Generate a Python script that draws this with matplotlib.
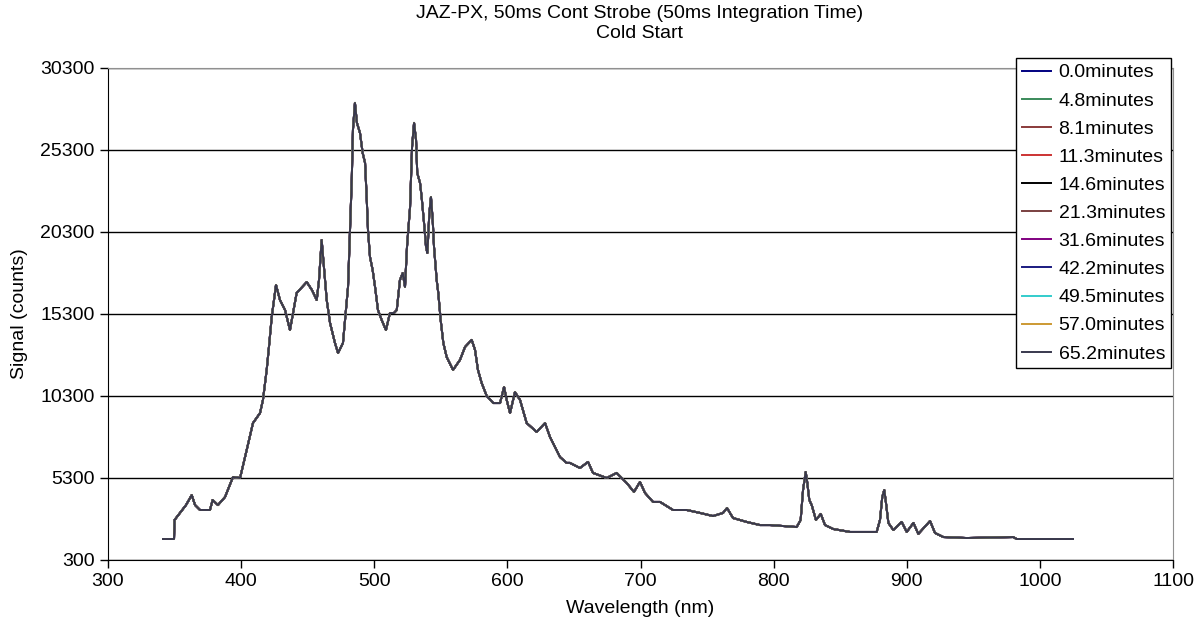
import matplotlib
matplotlib.use('Agg')
import matplotlib.pyplot as plt

# spectrum (all runs overlap almost exactly)
wavelength = [341.3, 349.6, 350.0, 354.1, 358.6, 362.9, 365.4, 369.1, 376.6, 378.6,
              382.6, 387.9, 393.9, 399.2, 404.2, 408.9, 414.2, 416.4, 419.2, 420.9,
              423.0, 426.2, 429.2, 433.0, 436.7, 441.7, 449.3, 453.2, 456.8, 458.5,
              460.5, 464.3, 466.8, 470.5, 472.8, 476.5, 480.3, 483.1, 484.0, 485.5,
              487.0, 489.3, 491.3, 493.1, 494.3, 495.3, 496.8, 498.8, 500.6, 502.8,
              505.6, 508.8, 511.8, 514.8, 516.9, 519.3, 521.4, 523.1, 524.6, 526.9,
              528.4, 529.9, 531.4, 532.3, 534.4, 535.6, 537.4, 538.9, 539.9, 541.4,
              542.6, 543.9, 544.9, 546.9, 548.1, 549.9, 551.9, 554.4, 559.2, 564.4,
              568.2, 573.2, 575.7, 577.9, 580.7, 584.5, 589.4, 594.5, 597.5, 599.5,
              602.0, 605.7, 609.5, 614.5, 622.0, 628.3, 632.0, 639.5, 644.5, 647.0,
              654.5, 660.6, 664.3, 674.6, 682.1, 689.6, 695.1, 699.6, 703.4, 709.4,
              714.7, 724.4, 734.7, 744.7, 754.5, 762.0, 765.0, 769.5, 779.8, 789.8,
              797.3, 817.3, 820.3, 822.1, 824.1, 825.3, 826.8, 828.6, 831.8, 835.4,
              838.6, 844.8, 857.4, 877.4, 879.9, 881.6, 883.1, 884.4, 886.2, 889.9,
              896.2, 900.0, 905.0, 908.7, 917.5, 921.2, 927.5, 945.0, 980.0, 982.5,
              1007.6, 1024.9]
signal = [1580, 1580, 2740, 3170, 3650, 4260, 3650, 3350, 3350, 3960,
          3650, 4140, 5360, 5300, 7010, 8650, 9260, 10060, 11890, 13290,
          15120, 17070, 16150, 15540, 14320, 16580, 17250, 16760, 16150, 17370,
          19810, 16150, 14750, 13530, 12920, 13530, 16950, 23470, 26520, 28170,
          26950, 26340, 25120, 24510, 22430, 20420, 18780, 17980, 16950, 15540,
          14930, 14320, 15360, 15360, 15540, 17370, 17800, 16950, 19390, 21820,
          25480, 26950, 25910, 23900, 23290, 22430, 20850, 19390, 19020, 21460,
          22430, 21030, 19390, 17370, 16580, 14930, 13530, 12680, 11890, 12500,
          13290, 13720, 13110, 11890, 11090, 10300, 9870, 9870, 10850, 10060,
          9260, 10540, 10060, 8650, 8110, 8650, 7800, 6580, 6220, 6220,
          5910, 6280, 5610, 5300, 5610, 5000, 4450, 5060, 4390, 3840,
          3840, 3350, 3350, 3170, 2980, 3170, 3470, 2860, 2620, 2430,
          2430, 2310, 2740, 4570, 5670, 5000, 3960, 3650, 2740, 3110,
          2430, 2190, 2010, 2010, 2740, 4140, 4570, 3780, 2560, 2130,
          2620, 2010, 2560, 1890, 2680, 1950, 1700, 1640, 1700, 1580,
          1580, 1580]

minutes = ['0.0', '4.8', '8.1', '11.3', '14.6', '21.3', '31.6', '42.2', '49.5', '57.0', '65.2']
colors = ['#000080', '#3a8a5a', '#8a3a3a', '#cc3333', '#000000', '#7a4040',
          '#800080', '#1a1a80', '#33cccc', '#cc9933', '#38384e']

plt.rcParams['font.family'] = ['Liberation Sans', 'DejaVu Sans']
fs = 14

fig = plt.figure(figsize=(12.01, 6.32), dpi=100)
ax = fig.add_axes([108/1201, 1 - 560/632, (1173 - 108)/1201, (560 - 68)/632])

for m, c in zip(minutes, colors):
    ax.plot(wavelength, signal, color=c, lw=1.4, label=m + 'minutes')

ax.set_xlim(300, 1100)
ax.set_ylim(300, 30300)
ax.set_xticks(range(300, 1101, 100))
ax.set_yticks(range(300, 30301, 5000))
ax.yaxis.grid(True, color='black', lw=1)
ax.set_axisbelow(True)
ax.tick_params(labelsize=fs, direction='out', length=6, width=1, colors='black')
for s in ['left', 'bottom']:
    ax.spines[s].set_color('black')
for s in ['top', 'right']:
    ax.spines[s].set_color('#909090')

ax.set_xlabel('Wavelength (nm)', fontsize=fs, labelpad=7)
ax.set_ylabel('Signal (counts)', fontsize=fs, labelpad=9)

fig.text(640/1201, 1 - 14/632, 'JAZ-PX, 50ms Cont Strobe (50ms Integration Time)',
         ha='center', va='center', fontsize=fs)
fig.text(640/1201, 1 - 33/632, 'Cold Start', ha='center', va='center', fontsize=fs)

leg = fig.legend(loc='upper right', bbox_to_anchor=(1171/1201, 1 - 58/632),
                 fontsize=fs, frameon=True, fancybox=False, edgecolor='black',
                 framealpha=1, handlelength=1.5, handletextpad=0.4,
                 labelspacing=0.54, borderpad=0.3, borderaxespad=0)
leg.get_frame().set_linewidth(1)

fig.savefig('out.png', dpi=100)
